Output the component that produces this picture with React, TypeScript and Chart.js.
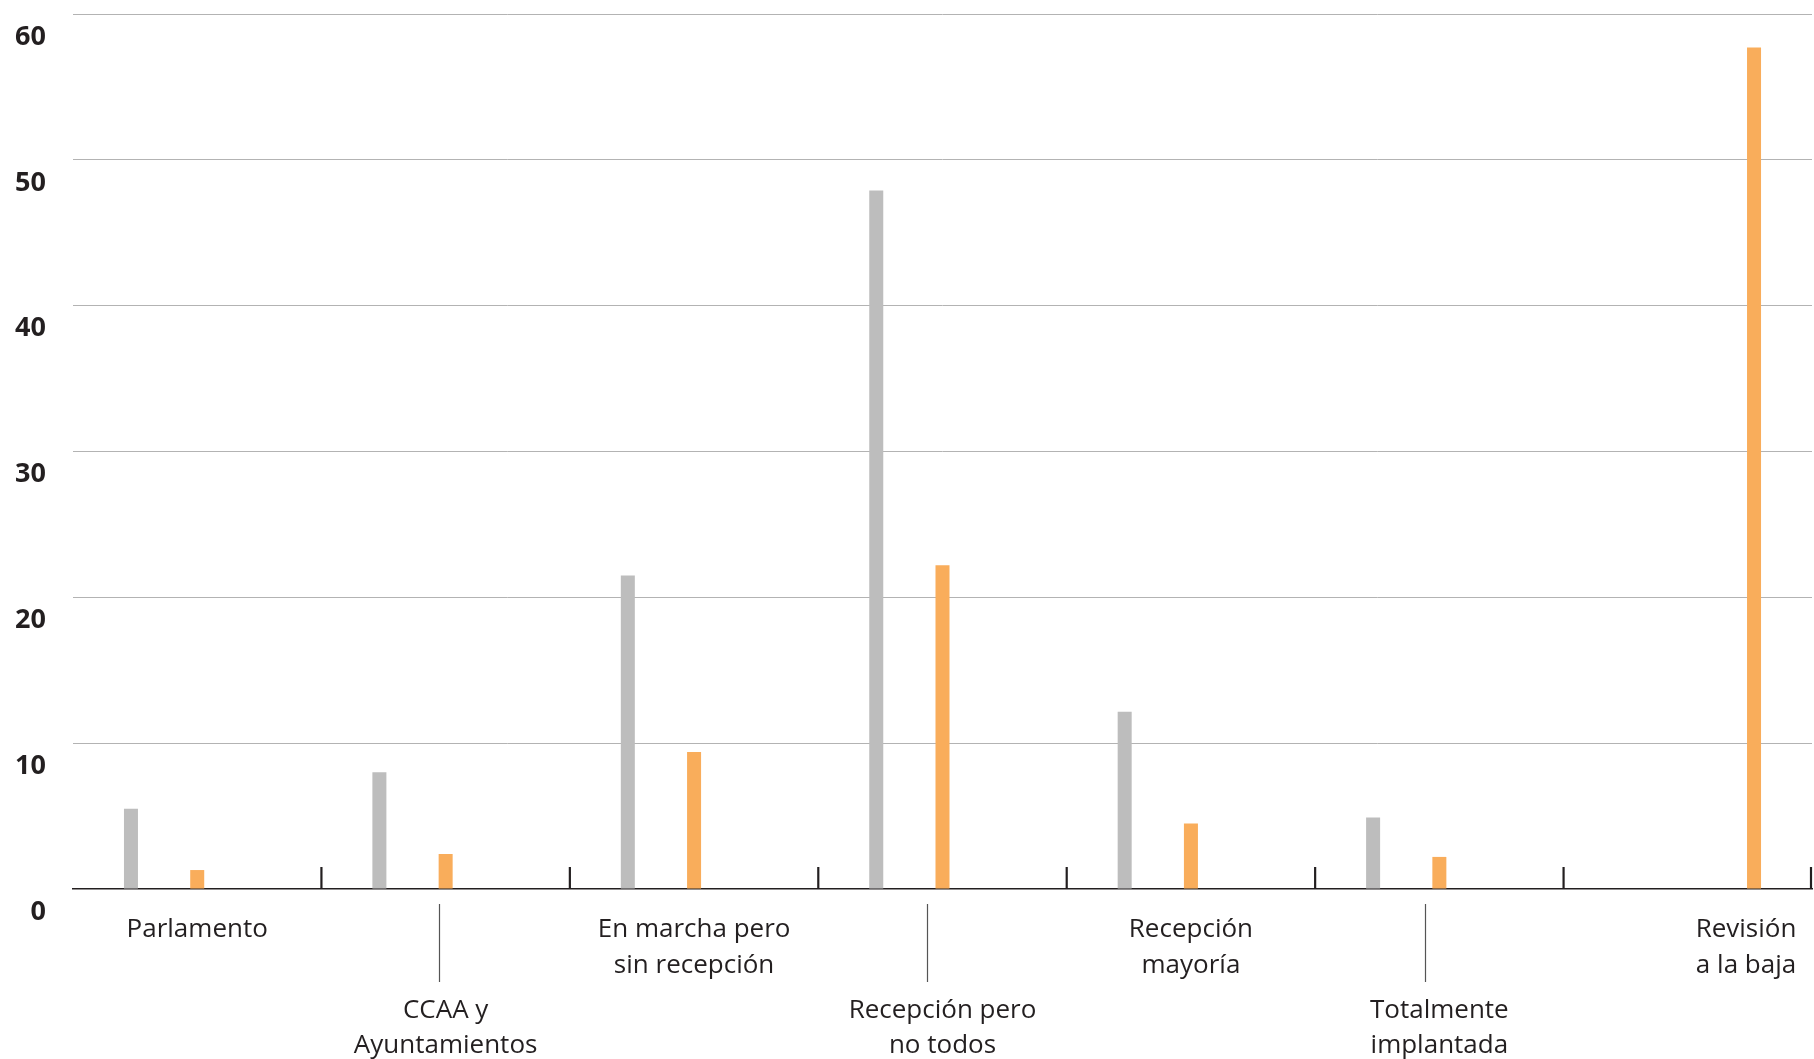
import React, { useEffect, useRef } from "react";
import { Chart, registerables } from "chart.js";

Chart.register(...registerables);

// ---- Data ----
const categories = [
  "Parlamento",
  "CCAA y Ayuntamientos",
  "En marcha pero sin recepción",
  "Recepción pero no todos",
  "Recepción mayoría",
  "Totalmente implantada",
  "Revisión a la baja",
];
const categoryLines = [
  ["Parlamento"],
  ["CCAA y", "Ayuntamientos"],
  ["En marcha pero", "sin recepción"],
  ["Recepción pero", "no todos"],
  ["Recepción", "mayoría"],
  ["Totalmente", "implantada"],
  ["Revisión", "a la baja"],
];
const grayValues = [5.5, 8.0, 21.5, 47.9, 12.15, 4.9, 0];
const orangeValues = [1.3, 2.4, 9.4, 22.2, 4.5, 2.2, null];
const orangeLateValues = [null, null, null, null, null, null, 57.7];
const yMin = 0;
const yMax = 60;
const yStep = 10;

// ---- Styles ----
const GRAY = "#bdbdbd";
const ORANGE = "#f9ad5b";
const INK = "#231f20";
const W = 1814;
const H = 1059;
const connectorShift: Record<number, number> = { 1: -7, 3: -16, 5: -14 };

const overlayPlugin = {
  id: "overlay",
  afterDraw(chart: any) {
    const { ctx, chartArea, scales } = chart;
    const x = scales.x;
    const n = categories.length;
    const bottom = chartArea.bottom;
    ctx.save();
    // category separator ticks (upwards from the baseline)
    ctx.strokeStyle = INK;
    ctx.lineWidth = 2.2;
    for (let i = 1; i <= n; i++) {
      const px =
        i < n
          ? (x.getPixelForValue(i - 1) + x.getPixelForValue(i)) / 2
          : chartArea.right - 1;
      ctx.beginPath();
      ctx.moveTo(px, bottom);
      ctx.lineTo(px, bottom - 22);
      ctx.stroke();
    }
    // labels
    ctx.fillStyle = INK;
    ctx.font = "26px 'Open Sans'";
    ctx.textAlign = "center";
    ctx.textBaseline = "alphabetic";
    const lateMeta = chart.getDatasetMeta(2);
    for (let i = 0; i < n; i++) {
      let cx = x.getPixelForValue(i);
      if (orangeLateValues[i] != null && lateMeta.data[i]) {
        cx = lateMeta.data[i].x - 8;
      }
      const lower = i % 2 === 1;
      const rows = lower ? [129, 164] : [48, 84];
      categoryLines[i].forEach((line, k) => {
        ctx.fillText(line, cx, bottom + rows[k]);
      });
      if (lower) {
        const lx = Math.round(cx + (connectorShift[i] || 0)) + 0.5;
        ctx.strokeStyle = "#555555";
        ctx.lineWidth = 1.2;
        ctx.beginPath();
        ctx.moveTo(lx, bottom + 15);
        ctx.lineTo(lx, bottom + 93);
        ctx.stroke();
      }
    }
    ctx.restore();
  },
};

export default function App() {
  const canvasRef = useRef<HTMLCanvasElement | null>(null);

  useEffect(() => {
    document.body.style.margin = "0";
    const canvas = canvasRef.current;
    if (!canvas) return;
    const chart = new Chart(canvas, {
      type: "bar",
      data: {
        labels: categories,
        datasets: [
          { label: "gray", data: grayValues, backgroundColor: GRAY },
          { label: "orange", data: orangeValues, backgroundColor: ORANGE },
          { label: "orange2", data: orangeLateValues, backgroundColor: ORANGE },
        ],
      },
      options: {
        responsive: false,
        animation: false,
        devicePixelRatio: 1,
        layout: { padding: { top: 14, right: 2, left: 0, bottom: 0 } },
        plugins: {
          legend: { display: false },
          tooltip: { enabled: false },
        },
        datasets: {
          bar: { categoryPercentage: 0.8, barPercentage: 0.2115 },
        },
        scales: {
          x: {
            type: "category",
            offset: true,
            grid: { display: false },
            border: { display: true, color: INK, width: 1.5 },
            ticks: { display: false },
            afterFit(scale: any) {
              scale.height = 170;
            },
          },
          y: {
            min: yMin,
            max: yMax,
            ticks: {
              stepSize: yStep,
              color: INK,
              padding: 0,
              labelOffset: 23,
              font: { family: "'Open Sans'", size: 27, weight: "bold", lineHeight: 1 },
            },
            grid: {
              drawTicks: true,
              tickLength: 27,
              tickColor: "rgba(0,0,0,0)",
              color: (c: any) => (c.tick && c.tick.value === 0 ? "rgba(0,0,0,0)" : "#b3b3b3"),
              lineWidth: 1,
            },
            border: { display: false },
            afterFit(scale: any) {
              scale.width = 73;
            },
          },
        },
      },
      plugins: [overlayPlugin],
    } as any);
    return () => chart.destroy();
  }, []);

  return (
    <div style={{ position: "absolute", left: 0, top: 0, width: W, height: H, background: "#fff" }}>
      <canvas ref={canvasRef} width={W} height={H} style={{ width: W, height: H, display: "block" }} />
    </div>
  );
}
